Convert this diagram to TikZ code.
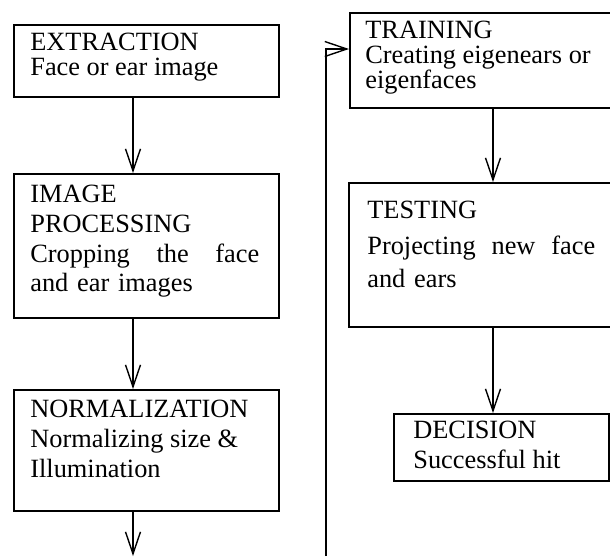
\documentclass[tikz,border=0pt]{standalone}
\usepackage{fontspec}
\setmainfont{Liberation Serif}
\usetikzlibrary{arrows.meta}

\begin{document}
\begin{tikzpicture}[x=0.02cm, y=-0.02cm,
        stagebox/.style={draw, line width=1pt, anchor=north west, inner sep=0pt},
        stagetext/.style={anchor=north west, inner sep=0pt, align=left},
        flow/.style={line width=0.8pt, -{Straight Barb[length=4.4mm, width=3mm]}}]
        \useasboundingbox (0,0) rectangle (610,556);
        \coordinate (lcol) at (133,0);
        \coordinate (rcol) at (493,0);
        % left column
        \node[stagebox, minimum width=5.3cm, minimum height=1.44cm] (ext) at (13,24) {};
        \node[stagetext, font=\fontsize{15}{14.2}\selectfont] (exttxt) at (30,32.5) {EXTRACTION\\Face or ear image};
        \node[stagebox, minimum width=5.3cm, minimum height=2.88cm] (img) at (13,173) {};
        \node[stagetext, text width=4.58cm, font=\fontsize{15}{17}\selectfont] (imgtxt) at (30,184.5)
            {IMAGE\\PROCESSING\\Cropping \hfill the \hfill face\\and ear images};
        \node[stagebox, minimum width=5.3cm, minimum height=2.42cm] (norm) at (13,389) {};
        \node[stagetext, font=\fontsize{15}{17}\selectfont] (normtxt) at (30,399.5) {NORMALIZATION\\Normalizing size \&\\Illumination};
        \coordinate (out) at (133,556);
        % right column
        \node[stagebox, minimum width=5.42cm, minimum height=1.9cm] (train) at (349,12) {};
        \node[stagetext, font=\fontsize{15}{14.2}\selectfont] (traintxt) at (365,20.5) {TRAINING\\Creating eigenears or\\eigenfaces};
        \node[stagebox, minimum width=5.44cm, minimum height=2.88cm] (test) at (348,182) {};
        \node[stagetext, text width=4.56cm, font=\fontsize{15}{18.7}\selectfont] (testtxt) at (367,200.5)
            {TESTING\\[2.1pt]Projecting \hfill new \hfill face\\and ears};
        \node[stagebox, minimum width=4.3cm, minimum height=1.34cm] (dec) at (393,413) {};
        \node[stagetext, font=\fontsize{15}{17}\selectfont] (dectxt) at (413,420.5) {DECISION\\Successful hit};
        % connectors
        \draw[flow] (lcol |- ext.south) -- (lcol |- img.north);
        \draw[flow] (lcol |- img.south) -- (lcol |- norm.north);
        \draw[flow] (lcol |- norm.south) -- (out);
        \coordinate (back) at (326,556);
        \coordinate (fbk) at (326,49);
        \draw[flow] (back) -- (fbk) -- (train.west |- fbk);
        \draw[flow] (rcol |- train.south) -- (rcol |- test.north);
        \draw[flow] (rcol |- test.south) -- (rcol |- dec.north);
    \end{tikzpicture}
\end{document}
